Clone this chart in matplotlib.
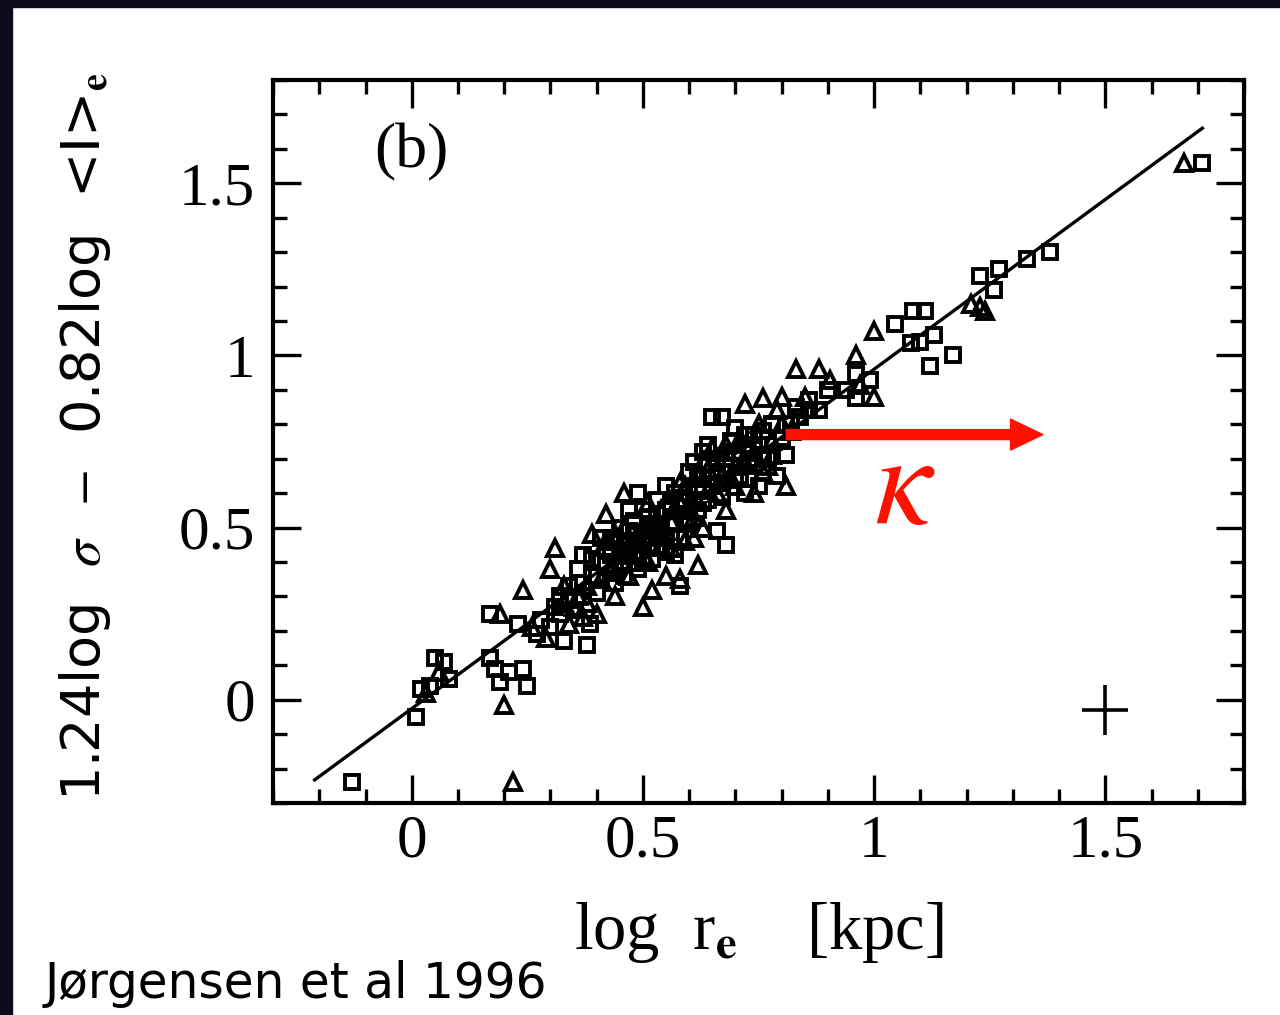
import matplotlib
matplotlib.use('Agg')
import matplotlib.pyplot as plt
from matplotlib.ticker import MultipleLocator, FixedLocator
from matplotlib.patches import Rectangle

plt.rcParams['font.family'] = ['Liberation Serif', 'DejaVu Serif']
plt.rcParams['mathtext.fontset'] = 'stix'

# galaxies plotted as open squares
sq_x = [-0.13, 0.01, 0.02, 0.04, 0.05, 0.07, 0.08, 0.17, 0.17, 0.18, 0.21, 0.24,
        0.19, 0.25, 0.23, 0.28, 0.33, 0.38, 0.385, 0.35, 0.30, 0.27, 0.32, 0.36,
        0.40, 0.41, 0.37, 0.43, 0.44, 0.46, 0.48, 0.50, 0.49, 0.52, 0.53, 0.54,
        0.56, 0.55, 0.57, 0.58, 0.59, 0.60, 0.61, 0.62, 0.63, 0.64, 0.65, 0.66,
        0.67, 0.68, 0.68, 0.70, 0.72, 0.73, 0.74, 0.76, 0.78, 0.79, 0.81, 0.83,
        0.86, 0.88, 0.90, 0.94, 0.96, 0.96, 0.99, 1.045, 1.08, 1.085, 1.10, 1.11,
        1.12, 1.13, 1.17, 1.23, 1.26, 1.27, 1.33, 1.38, 1.71,
        0.45, 0.47, 0.51, 0.42, 0.39, 0.34, 0.44, 0.53, 0.57, 0.62, 0.66, 0.69,
        0.71, 0.75, 0.77, 0.70, 0.64, 0.60, 0.55, 0.49, 0.36, 0.31, 0.41, 0.47,
        0.52, 0.58, 0.63, 0.74, 0.72, 0.67, 0.59, 0.46,
        0.32, 0.34, 0.37, 0.39, 0.40, 0.42, 0.43, 0.45, 0.46, 0.47, 0.48, 0.50,
        0.50, 0.51, 0.52, 0.53, 0.54, 0.55, 0.56, 0.57, 0.58, 0.60, 0.61, 0.62,
        0.63, 0.65, 0.66, 0.67, 0.68, 0.69, 0.71, 0.72, 0.73, 0.75, 0.76, 0.77,
        0.80, 0.82, 0.84, 0.86]
sq_y = [-0.24, -0.05, 0.03, 0.04, 0.12, 0.11, 0.06, 0.25, 0.12, 0.09, 0.08, 0.09,
        0.05, 0.04, 0.22, 0.23, 0.17, 0.16, 0.22, 0.26, 0.21, 0.19, 0.30, 0.34,
        0.31, 0.40, 0.42, 0.47, 0.34, 0.43, 0.52, 0.46, 0.38, 0.41, 0.58, 0.50,
        0.47, 0.55, 0.42, 0.33, 0.51, 0.60, 0.69, 0.55, 0.64, 0.58, 0.82, 0.49,
        0.82, 0.45, 0.66, 0.72, 0.60, 0.68, 0.77, 0.71, 0.80, 0.65, 0.71, 0.85,
        0.87, 0.84, 0.90, 0.90, 0.945, 0.875, 0.93, 1.09, 1.035, 1.13, 1.04, 1.13,
        0.97, 1.06, 1.00, 1.23, 1.19, 1.25, 1.28, 1.30, 1.56,
        0.50, 0.55, 0.53, 0.44, 0.36, 0.29, 0.39, 0.44, 0.60, 0.61, 0.70, 0.75,
        0.65, 0.62, 0.74, 0.79, 0.74, 0.66, 0.62, 0.60, 0.38, 0.27, 0.47, 0.45,
        0.49, 0.56, 0.72, 0.70, 0.77, 0.63, 0.58, 0.36,
        0.25, 0.33, 0.30, 0.41, 0.36, 0.39, 0.42, 0.46, 0.39, 0.49, 0.43, 0.41,
        0.55, 0.47, 0.50, 0.54, 0.48, 0.43, 0.57, 0.51, 0.47, 0.52, 0.58, 0.64,
        0.57, 0.62, 0.66, 0.59, 0.70, 0.68, 0.70, 0.74, 0.64, 0.74, 0.78, 0.70,
        0.76, 0.80, 0.82, 0.84]

# galaxies plotted as open triangles
tri_x = [0.22, 0.03, 0.19, 0.20, 0.24, 0.30, 0.31, 0.39, 0.42, 0.46, 0.50, 0.52,
         0.58, 0.62, 0.58, 0.65, 0.68, 0.72, 0.76, 0.80, 0.81, 0.83, 0.88, 0.905,
         0.97, 1.00, 0.96, 1.00, 1.21, 1.23, 1.24, 1.67, 0.29, 0.26, 0.34, 0.36,
         0.40, 0.43, 0.45, 0.47, 0.48, 0.50, 0.51, 0.54, 0.55, 0.56, 0.59, 0.60,
         0.63, 0.64, 0.66, 0.67, 0.69, 0.70, 0.71, 0.73, 0.75, 0.77, 0.78, 0.79,
         0.74, 0.57, 0.53, 0.44, 0.37, 0.33, 0.06, 0.38, 0.49, 0.61,
         0.33, 0.35, 0.38, 0.41, 0.42, 0.44, 0.46, 0.48, 0.49, 0.51, 0.52, 0.54,
         0.55, 0.56, 0.58, 0.59, 0.61, 0.62, 0.64, 0.65, 0.67, 0.68, 0.70, 0.72,
         0.74, 0.76, 0.78, 0.80, 0.82, 0.85]
tri_y = [-0.24, 0.02, 0.25, -0.015, 0.32, 0.38, 0.44, 0.48, 0.54, 0.60, 0.27, 0.32,
         0.35, 0.39, 0.63, 0.73, 0.55, 0.86, 0.875, 0.88, 0.62, 0.96, 0.96, 0.93,
         0.915, 0.88, 1.00, 1.07, 1.15, 1.14, 1.13, 1.56, 0.18, 0.21, 0.22, 0.30,
         0.25, 0.37, 0.42, 0.36, 0.46, 0.50, 0.40, 0.45, 0.36, 0.52, 0.46, 0.55,
         0.50, 0.67, 0.60, 0.72, 0.64, 0.68, 0.76, 0.73, 0.80, 0.68, 0.75, 0.84,
         0.60, 0.56, 0.52, 0.30, 0.24, 0.33, 0.08, 0.28, 0.42, 0.47,
         0.28, 0.27, 0.33, 0.35, 0.46, 0.48, 0.50, 0.40, 0.48, 0.57, 0.45, 0.55,
         0.49, 0.44, 0.57, 0.62, 0.53, 0.66, 0.61, 0.69, 0.65, 0.74, 0.62, 0.69,
         0.72, 0.66, 0.71, 0.80, 0.78, 0.88]

# fitted relation, drawn between its two end points
fit_x = [-0.21, 1.71]
fit_y = [-0.233, 1.66]

# typical error cross
err_x, err_y = 1.5, -0.03
err_dx, err_dy = 0.05, 0.073

# kappa arrow
arrow_x0, arrow_x1, arrow_y = 0.81, 1.365, 0.77

fig = plt.figure(figsize=(12.8, 10.15), dpi=100)
fig.patch.set_facecolor('white')

# dark slide frame on top and left
dark = '#0b0b1c'
fig.patches.append(Rectangle((0, 1 - 7 / 1015), 1, 7 / 1015, transform=fig.transFigure,
                             color=dark, zorder=0))
fig.patches.append(Rectangle((0, 0), 12 / 1280, 1, transform=fig.transFigure,
                             color=dark, zorder=0))

ax = fig.add_axes([0.2133, 0.2089, 0.7586, 0.7123])
ax.set_xlim(-0.3, 1.8)
ax.set_ylim(-0.3, 1.8)

ax.plot(fit_x, fit_y, color='black', lw=2.4, zorder=2)
ax.plot(sq_x, sq_y, ls='none', marker='s', ms=10, mfc='none', mec='black', mew=2.8, zorder=3)
ax.plot(tri_x, tri_y, ls='none', marker='^', ms=11, mfc='none', mec='black', mew=2.8, zorder=3)
ax.errorbar([err_x], [err_y], xerr=[err_dx], yerr=[err_dy], fmt='none',
            ecolor='black', elinewidth=2.6, capsize=0)

ax.arrow(arrow_x0, arrow_y, arrow_x1 - arrow_x0, 0, width=0.029, head_width=0.09,
         head_length=0.07, length_includes_head=True, color='#ff1100', zorder=4)
ax.text(1.067, 0.60, r'$\kappa$', color='#ff1100', fontsize=92,
        ha='center', va='center')

ax.text(0.0, 1.59, '(b)', fontsize=46, ha='center', va='center')

ax.xaxis.set_major_locator(FixedLocator([0, 0.5, 1, 1.5]))
ax.yaxis.set_major_locator(FixedLocator([0, 0.5, 1, 1.5]))
ax.xaxis.set_minor_locator(MultipleLocator(0.1))
ax.yaxis.set_minor_locator(MultipleLocator(0.1))
ax.set_xticklabels(['0', '0.5', '1', '1.5'])
ax.set_yticklabels(['0', '0.5', '1', '1.5'])

ax.tick_params(which='both', direction='in', top=True, right=True, width=2.4, labelsize=44)
ax.tick_params(which='major', length=20)
ax.tick_params(which='minor', length=10)
ax.tick_params(axis='x', which='major', pad=8)
ax.tick_params(axis='y', which='major', pad=13)
for sp in ax.spines.values():
    sp.set_linewidth(3)

ax.set_xlabel(r'log  r$_\mathbf{e}$    [kpc]', fontsize=48, labelpad=22)

fig.text(85 / 1280, 1 - 437 / 1015,
         r'1.24log  $\sigma$  $-$  0.82log  <I>$_\mathbf{e}$',
         rotation=90, ha='center', va='center', fontsize=39, family='DejaVu Sans')

fig.text(45 / 1280, 1 - 998 / 1015, 'Jørgensen et al 1996', fontsize=35,
         family='DejaVu Sans', ha='left', va='baseline')

fig.savefig('out.png', dpi=100)
